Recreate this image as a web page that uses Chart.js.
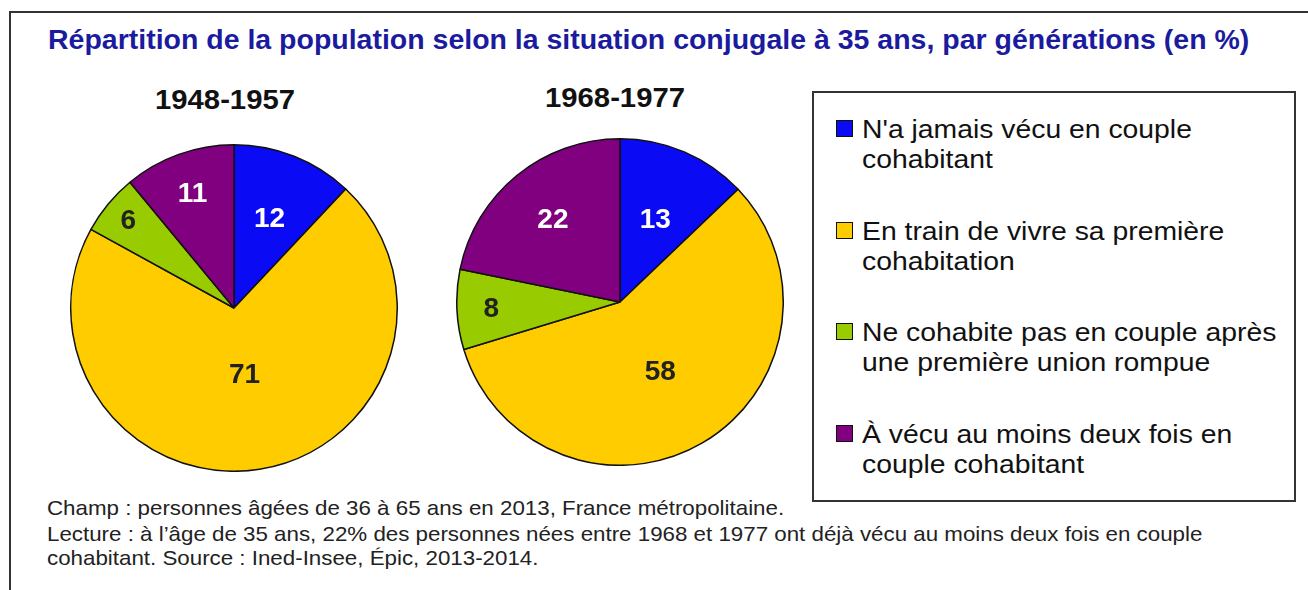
<!DOCTYPE html>
<html lang="fr">
<head>
<meta charset="utf-8">
<script src="https://cdn.jsdelivr.net/npm/chart.js@4"></script>
<style>
  body { margin: 0; background: #fff; font-family: "Liberation Sans", Arial, sans-serif; }
  #page { position: relative; width: 1308px; height: 590px; overflow: hidden; }
  #frame { position: absolute; left: 9px; top: 11px; width: 1400px; height: 700px; border: 2px solid #333; }
  .t { position: absolute; white-space: nowrap; }
  #title { left: 48px; top: 27px; font-size: 27px; line-height: 27px; font-weight: bold; color: #1b1b9e;
           transform: scaleX(1.055); transform-origin: left center; }
  .sub { font-size: 28px; line-height: 28px; font-weight: bold; color: #111; width: 240px; text-align: center;
         transform: scaleX(1.045); }
  .box { position: absolute; }
  #legend { position: absolute; left: 812px; top: 91px; width: 480px; height: 407px; border: 2px solid #333; }
  .item { position: absolute; left: 862px; font-size: 26px; line-height: 30px; color: #111; white-space: nowrap;
          transform: scaleX(1.09); transform-origin: left center; }
  .sw { position: absolute; left: 836px; width: 15px; height: 15px; border: 1.5px solid #111; }
  .note { position: absolute; left: 47px; font-size: 21px; line-height: 21px; color: #222; white-space: nowrap;
          transform: scaleX(1.063); transform-origin: left center; }
</style>
</head>
<body>
<div id="page">
  <div id="frame"></div>
  <div id="title" class="t">Répartition de la population selon la situation conjugale à 35 ans, par générations (en %)</div>
  <div class="t sub" style="left:105px; top:86px;">1948-1957</div>
  <div class="t sub" style="left:495px; top:84px;">1968-1977</div>
  <div class="box" style="left:70px; top:144px; width:328px; height:328px;"><canvas id="pie1"></canvas></div>
  <div class="box" style="left:456px; top:138px; width:328px; height:328px;"><canvas id="pie2"></canvas></div>
  <div id="legend"></div>
  <div id="legendItems"></div>
  <div id="notes"></div>
</div>
<script>
// categories and values
const categories = [
  "N'a jamais vécu en couple cohabitant",
  "En train de vivre sa première cohabitation",
  "Ne cohabite pas en couple après une première union rompue",
  "À vécu au moins deux fois en couple cohabitant"
];
const legendLines = [
  ["N'a jamais vécu en couple", "cohabitant"],
  ["En train de vivre sa première", "cohabitation"],
  ["Ne cohabite pas en couple après", "une première union rompue"],
  ["À vécu au moins deux fois en", "couple cohabitant"]
];
const generations = ["1948-1957", "1968-1977"];
const values1948 = [12, 71, 6, 11];
const values1968 = [13, 58, 8, 22];

const colors = ['#0a0af5', '#ffcc00', '#99cc00', '#800080'];
const labelColors = ['#ffffff', '#222222', '#222222', '#ffffff'];
// how far from the centre each number sits (fraction of radius)
const labelPos1948 = [0.59, 0.41, 0.84, 0.75];
const labelPos1968 = [0.55, 0.49, 0.79, 0.65];

const notes = [
  "Champ : personnes âgées de 36 à 65 ans en 2013, France métropolitaine.",
  "Lecture : à l’âge de 35 ans, 22% des personnes nées entre 1968 et 1977 ont déjà vécu au moins deux fois en couple",
  "cohabitant. Source : Ined-Insee, Épic, 2013-2014."
];

// legend (html)
const li = document.getElementById('legendItems');
legendLines.forEach((lines, i) => {
  const top = 114 + i * 101.7;
  const sw = document.createElement('div');
  sw.className = 'sw';
  sw.style.top = (top + 6) + 'px';
  sw.style.background = colors[i];
  li.appendChild(sw);
  const d = document.createElement('div');
  d.className = 'item';
  d.style.top = top + 'px';
  d.innerHTML = lines.join('<br>');
  li.appendChild(d);
});

const nb = document.getElementById('notes');
const noteTops = [497, 523, 547];
notes.forEach((n, i) => {
  const d = document.createElement('div');
  d.className = 'note';
  d.style.top = noteTops[i] + 'px';
  d.textContent = n;
  nb.appendChild(d);
});

const sliceLabels = {
  id: 'sliceLabels',
  afterDatasetsDraw(chart, args, opts) {
    const ctx = chart.ctx;
    const meta = chart.getDatasetMeta(0);
    ctx.save();
    ctx.font = 'bold 28px "Liberation Sans", Arial, sans-serif';
    ctx.textAlign = 'center';
    ctx.textBaseline = 'middle';
    meta.data.forEach((arc, i) => {
      const p = arc.getProps(['x', 'y', 'startAngle', 'endAngle', 'outerRadius'], true);
      const mid = (p.startAngle + p.endAngle) / 2;
      const r = p.outerRadius * opts.pos[i];
      ctx.fillStyle = labelColors[i];
      ctx.fillText(String(chart.data.datasets[0].data[i]), p.x + Math.cos(mid) * r, p.y + Math.sin(mid) * r + 1);
    });
    ctx.restore();
  }
};

function makePie(id, values, pos) {
  new Chart(document.getElementById(id), {
    type: 'pie',
    data: {
      labels: categories,
      datasets: [{
        data: values,
        backgroundColor: colors,
        borderColor: '#111',
        borderWidth: 1.5
      }]
    },
    options: {
      responsive: true,
      maintainAspectRatio: false,
      animation: false,
      devicePixelRatio: 1,
      layout: { padding: 0 },
      plugins: {
        legend: { display: false },
        tooltip: { enabled: false },
        sliceLabels: { pos: pos }
      }
    },
    plugins: [sliceLabels]
  });
}

makePie('pie1', values1948, labelPos1948);
makePie('pie2', values1968, labelPos1968);
</script>
</body>
</html>
